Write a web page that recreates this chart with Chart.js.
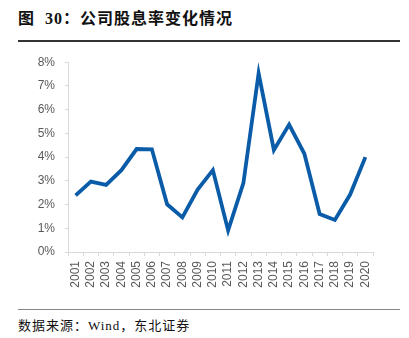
<!DOCTYPE html>
<html>
<head>
<meta charset="utf-8">
<script src="https://cdn.jsdelivr.net/npm/chart.js@4.4.1/dist/chart.umd.min.js"></script>
<style>
  body { margin: 0; background: #fff; width: 409px; height: 338px; position: relative; overflow: hidden; }
  .title { position: absolute; left: 18px; top: 5px; font: bold 16px "Liberation Serif", "Noto Sans CJK SC"; color: #111; letter-spacing: 1px; }
  .rule1 { position: absolute; left: 18px; top: 40px; width: 382px; height: 2px; background: #333; }
  .rule2 { position: absolute; left: 18px; top: 309px; width: 382px; height: 1px; background: #888; }
  .src { position: absolute; left: 18px; top: 315px; font: 13px "Liberation Serif", "Noto Sans CJK SC"; color: #111; letter-spacing: 1px; }
  .box { position: absolute; left: 0; top: 45px; width: 409px; height: 255px; }
</style>
</head>
<body>
<div class="title">图&nbsp;&nbsp;30：公司股息率变化情况</div>
<div class="rule1"></div>
<div class="box"><canvas id="mychart"></canvas></div>
<div class="rule2"></div>
<div class="src">数据来源：Wind，东北证券</div>
<script>
var years = ["2001","2002","2003","2004","2005","2006","2007","2008","2009","2010",
             "2011","2012","2013","2014","2015","2016","2017","2018","2019","2020"];
// 股息率 (%)
var yieldPct = [2.39, 2.97, 2.83, 3.45, 4.34, 4.33, 2.01, 1.46, 2.63, 3.45,
                0.91, 2.90, 7.53, 4.30, 5.37, 4.14, 1.60, 1.35, 2.42, 4.00];

var ctx = document.getElementById("mychart");
var myChart = new Chart(ctx, {
  type: 'line',
  data: {
    labels: years,
    datasets: [{
      data: yieldPct,
      borderColor: '#0a5ca8',
      borderWidth: 3.8,
      pointRadius: 0,
      tension: 0,
      fill: false
    }]
  },
  options: {
    responsive: true,
    maintainAspectRatio: false,
    animation: false,
    layout: { padding: { left: 0, right: 36, top: 13, bottom: 0 } },
    plugins: { legend: { display: false }, tooltip: { enabled: false } },
    scales: {
      x: {
        offset: true,
        grid: { offset: true, drawOnChartArea: false, drawTicks: true, tickLength: 4, color: '#d9d9d9' },
        border: { color: '#d9d9d9' },
        ticks: { minRotation: 90, maxRotation: 90, autoSkip: false, padding: 5, color: '#595959', font: { family: 'Liberation Sans', size: 12 } },
        afterFit: function(scale) { scale.height = 48; }
      },
      y: {
        min: 0, max: 8,
        grid: { drawOnChartArea: false, drawTicks: true, tickLength: 3, color: '#d9d9d9' },
        border: { color: '#d9d9d9' },
        ticks: { stepSize: 1, padding: 10, color: '#595959', font: { family: 'Liberation Sans', size: 12 },
                 callback: function(v) { return v + '%'; } },
        afterFit: function(scale) { scale.width = 68; }
      }
    }
  }
});
</script>
</body>
</html>
